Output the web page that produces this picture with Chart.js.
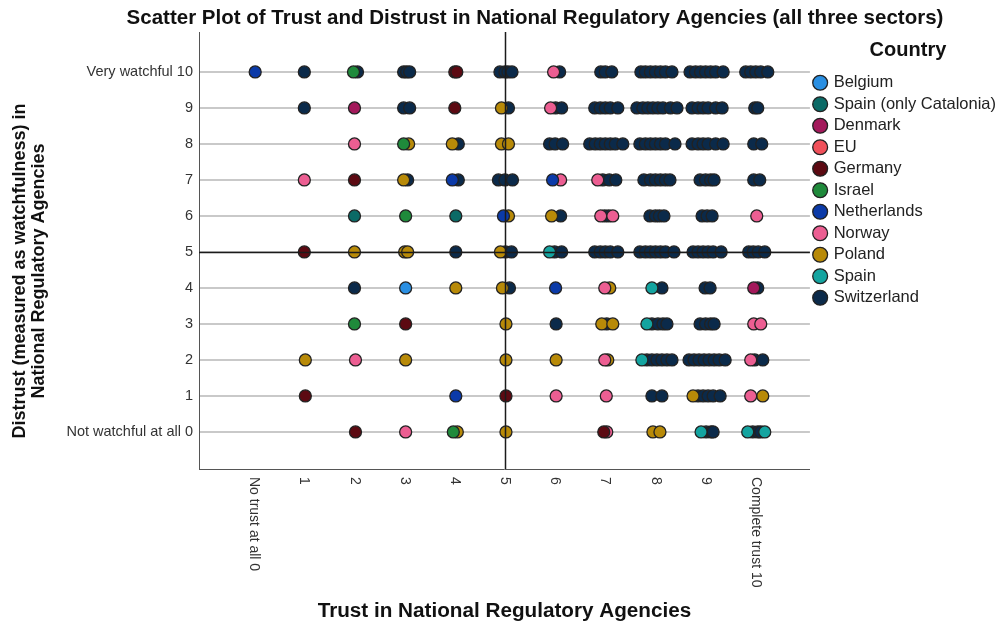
<!DOCTYPE html>
<html>
<head>
<meta charset="utf-8">
<title>Scatter Plot of Trust and Distrust</title>
<script src="https://cdn.jsdelivr.net/npm/chart.js@4.4.1/dist/chart.umd.min.js"></script>
<style>
  html, body { margin: 0; padding: 0; background: #fff; }
  #wrap { width: 1006px; height: 629px; }
</style>
</head>
<body>
<div id="wrap"><canvas id="chart" width="1006" height="629"></canvas></div>
<script>
// ── labels ──
const chartTitle = 'Scatter Plot of Trust and Distrust in National Regulatory Agencies (all three sectors)';
const xTitle = 'Trust in National Regulatory Agencies';
const yTitle = ['Distrust (measured as watchfulness) in', 'National Regulatory Agencies'];
const legendTitle = 'Country';

const xTicks = [0, 1, 2, 3, 4, 5, 6, 7, 8, 9, 10];
const xTickLabels = ['No trust at all 0', '1', '2', '3', '4', '5', '6', '7', '8', '9', 'Complete trust 10'];
const yTicks = [0, 1, 2, 3, 4, 5, 6, 7, 8, 9, 10];
const yTickLabels = ['Not watchful at all 0', '1', '2', '3', '4', '5', '6', '7', '8', '9', 'Very watchful 10'];
const refValue = 5;

const countries = ['Belgium', 'Spain (only Catalonia)', 'Denmark', 'EU', 'Germany', 'Israel',
  'Netherlands', 'Norway', 'Poland', 'Spain', 'Switzerland'];
const countryColors = ['#2a8fe2', '#0b6a66', '#a3195b', '#f0505a', '#5c0a12', '#1f8a3b',
  '#0b3aa8', '#ec5e92', '#b88a08', '#14a4a0', '#0b2a4a'];

// ── points [trust, distrust] (jittered as in the picture) ──
const belgium = [[3.02, 4]];
const spainCatalonia = [[2.0, 6], [4.02, 6]];
const denmark = [[2.0, 9], [9.96, 4]];
const eu = [];
const germany = [[4.0, 10], [4.04, 10], [4.0, 9], [2.0, 7], [1.0, 5], [3.02, 3],
  [1.02, 1], [5.02, 1], [2.02, 0], [6.97, 0]];
const israel = [[1.98, 10], [2.98, 8], [3.02, 6], [2.0, 3], [3.97, 0]];
const netherlands = [[0.02, 10], [3.95, 7], [5.95, 7], [4.97, 6], [6.01, 4], [4.02, 1]];
const norway = [[5.97, 10], [5.91, 9], [2.0, 8], [1.0, 7], [6.11, 7], [6.85, 7],
  [6.91, 6], [7.15, 6], [10.02, 6], [6.99, 4], [9.96, 3], [10.1, 3],
  [2.02, 2], [6.99, 2], [9.9, 2], [6.02, 1], [7.02, 1], [9.9, 1], [3.02, 0], [7.03, 0]];
const poland = [[4.93, 9], [3.08, 8], [3.95, 8], [4.93, 8], [5.07, 8], [2.98, 7],
  [5.07, 6], [5.93, 6], [2.0, 5], [3.0, 5], [3.06, 5], [4.91, 5],
  [4.02, 4], [4.95, 4], [7.09, 4], [5.02, 3], [6.93, 3], [7.15, 3],
  [1.02, 2], [3.02, 2], [5.02, 2], [6.02, 2], [7.05, 2], [8.75, 1], [10.14, 1],
  [4.05, 0], [5.02, 0], [7.95, 0], [8.09, 0]];
const spain = [[5.89, 5], [7.93, 4], [7.83, 3], [7.73, 2], [8.91, 0], [9.84, 0], [10.18, 0]];
const switzerland = [
  [1.0, 10], [2.06, 10], [2.98, 10], [3.04, 10], [3.1, 10], [4.9, 10], [5.0, 10], [5.06, 10], [5.14, 10],
  [6.09, 10], [6.91, 10], [7.0, 10], [7.13, 10], [7.71, 10], [7.8, 10], [7.9, 10], [8.0, 10], [8.1, 10],
  [8.2, 10], [8.33, 10], [8.69, 10], [8.8, 10], [8.9, 10], [9.0, 10], [9.1, 10], [9.2, 10], [9.35, 10],
  [9.8, 10], [9.9, 10], [10.0, 10], [10.1, 10], [10.24, 10],
  [1.0, 9], [2.98, 9], [3.1, 9], [5.07, 9], [6.01, 9], [6.13, 9], [6.79, 9], [6.9, 9], [7.0, 9], [7.1, 9],
  [7.25, 9], [7.63, 9], [7.75, 9], [7.85, 9], [7.95, 9], [8.05, 9], [8.15, 9], [8.3, 9], [8.43, 9],
  [8.73, 9], [8.85, 9], [8.95, 9], [9.05, 9], [9.2, 9], [9.33, 9], [9.98, 9], [10.04, 9],
  [4.07, 8], [5.89, 8], [6.0, 8], [6.15, 8], [6.69, 8], [6.8, 8], [6.9, 8], [7.0, 8], [7.1, 8], [7.2, 8],
  [7.35, 8], [7.69, 8], [7.8, 8], [7.9, 8], [8.0, 8], [8.1, 8], [8.2, 8], [8.39, 8], [8.73, 8], [8.85, 8],
  [8.95, 8], [9.05, 8], [9.2, 8], [9.35, 8], [9.96, 8], [10.12, 8],
  [3.06, 7], [4.07, 7], [4.87, 7], [5.0, 7], [5.15, 7], [6.95, 7], [7.08, 7], [7.21, 7], [7.77, 7],
  [7.9, 7], [8.0, 7], [8.1, 7], [8.2, 7], [8.29, 7], [8.89, 7], [9.0, 7], [9.1, 7], [9.17, 7],
  [9.96, 7], [10.08, 7],
  [6.11, 6], [6.99, 6], [7.07, 6], [7.89, 6], [8.0, 6], [8.08, 6], [8.17, 6], [8.93, 6], [9.03, 6], [9.13, 6],
  [4.02, 5], [5.01, 5], [5.13, 5], [5.99, 5], [6.13, 5], [6.79, 5], [6.9, 5], [7.0, 5], [7.1, 5], [7.25, 5],
  [7.69, 5], [7.8, 5], [7.9, 5], [8.0, 5], [8.1, 5], [8.2, 5], [8.37, 5], [8.75, 5], [8.85, 5], [8.95, 5],
  [9.05, 5], [9.15, 5], [9.31, 5], [9.86, 5], [9.95, 5], [10.05, 5], [10.18, 5],
  [2.0, 4], [5.09, 4], [8.13, 4], [8.99, 4], [9.09, 4], [10.04, 4],
  [6.02, 3], [7.03, 3], [7.93, 3], [8.05, 3], [8.15, 3], [8.23, 3], [8.89, 3], [9.0, 3], [9.1, 3], [9.17, 3],
  [7.83, 2], [7.93, 2], [8.03, 2], [8.13, 2], [8.23, 2], [8.33, 2], [8.67, 2], [8.77, 2], [8.87, 2],
  [8.97, 2], [9.07, 2], [9.17, 2], [9.27, 2], [9.39, 2], [9.98, 2], [10.14, 2],
  [7.93, 1], [8.13, 1], [8.85, 1], [8.95, 1], [9.05, 1], [9.15, 1], [9.29, 1],
  [9.01, 0], [9.11, 0], [9.15, 0], [9.94, 0], [10.04, 0], [10.1, 0]
];

const seriesPoints = [belgium, spainCatalonia, denmark, eu, germany, israel,
  netherlands, norway, poland, spain, switzerland];

const sans = '"Liberation Sans", Arial, sans-serif';

// ── titles, rotated x tick labels and the two reference lines ──
const decorations = {
  id: 'decorations',
  afterDatasetsDraw(chart) {
    const { ctx, chartArea: a, scales: { x, y } } = chart;
    const px = Math.round(x.getPixelForValue(refValue)) + 0.5;
    const py = Math.round(y.getPixelForValue(refValue)) + 0.5;
    ctx.save();
    ctx.strokeStyle = '#1b1b1b';
    ctx.lineWidth = 1.5;
    ctx.beginPath();
    ctx.moveTo(px, a.top);
    ctx.lineTo(px, a.bottom);
    ctx.moveTo(a.left, py);
    ctx.lineTo(a.right, py);
    ctx.stroke();
    ctx.restore();
  },
  afterDraw(chart) {
    const { ctx, chartArea: a, scales: { x } } = chart;
    ctx.save();
    ctx.fillStyle = '#111';
    ctx.textAlign = 'center';
    ctx.textBaseline = 'middle';
    ctx.font = 'bold 20.5px ' + sans;
    ctx.fillText(chartTitle, 535, 18);

    ctx.font = 'bold 18px ' + sans;
    yTitle.forEach((line, i) => {
      ctx.save();
      ctx.translate(20 + i * 19, 271);
      ctx.rotate(-Math.PI / 2);
      ctx.fillText(line, 0, 0);
      ctx.restore();
    });

    ctx.font = '14px ' + sans;
    ctx.fillStyle = '#333';
    ctx.textAlign = 'left';
    xTicks.forEach((v, i) => {
      ctx.save();
      ctx.translate(x.getPixelForValue(v), a.bottom + 8);
      ctx.rotate(Math.PI / 2);
      ctx.fillText(xTickLabels[i], 0, 0);
      ctx.restore();
    });
    ctx.restore();
  }
};

const datasets = countries.map((name, i) => ({
  label: name,
  data: seriesPoints[i].map(p => ({ x: p[0], y: p[1] })),
  backgroundColor: countryColors[i],
  borderColor: '#222',
  borderWidth: 1.3,
  pointRadius: 6,
  pointHoverRadius: 6,
  pointStyle: 'circle',
  order: name === 'Switzerland' ? 1 : 0
}));

new Chart(document.getElementById('chart'), {
  type: 'scatter',
  data: { datasets },
  options: {
    responsive: false,
    animation: false,
    events: [],
    layout: { padding: { top: 32, right: 0, bottom: 0, left: 0 } },
    plugins: {
      title: { display: false },
      tooltip: { enabled: false },
      legend: {
        position: 'right',
        align: 'start',
        title: {
          display: true,
          text: legendTitle,
          color: '#111',
          font: { family: sans, size: 20, weight: 'bold' },
          padding: { top: 8, bottom: 5.5 }
        },
        labels: {
          usePointStyle: true,
          pointStyle: 'circle',
          boxWidth: 10.5,
          boxHeight: 10.5,
          padding: 5,
          color: '#222',
          font: { family: sans, size: 16.5 }
        }
      }
    },
    scales: {
      x: {
        type: 'linear',
        min: -1.1,
        max: 11.08,
        afterBuildTicks: s => { s.ticks = xTicks.map(v => ({ value: v })); },
        afterFit: s => { s.height = 160; },
        ticks: { display: false },
        grid: { color: 'rgba(0,0,0,0)', drawTicks: false },
        border: { display: true, color: '#555', width: 1 },
        title: {
          display: true,
          text: xTitle,
          color: '#111',
          font: { family: sans, size: 20.7, weight: 'bold' },
          padding: { top: 0, bottom: 5 }
        }
      },
      y: {
        type: 'linear',
        min: -1.03,
        max: 11.11,
        afterBuildTicks: s => { s.ticks = yTicks.map(v => ({ value: v })); },
        afterFit: s => { s.width = 199; },
        ticks: {
          padding: 6,
          color: '#333',
          font: { family: sans, size: 14.5 },
          callback: v => yTickLabels[yTicks.indexOf(v)]
        },
        grid: { color: '#c9c9c9', lineWidth: 2, drawTicks: false },
        border: { display: true, color: '#555', width: 1 }
      }
    }
  },
  plugins: [decorations]
});
</script>
</body>
</html>
